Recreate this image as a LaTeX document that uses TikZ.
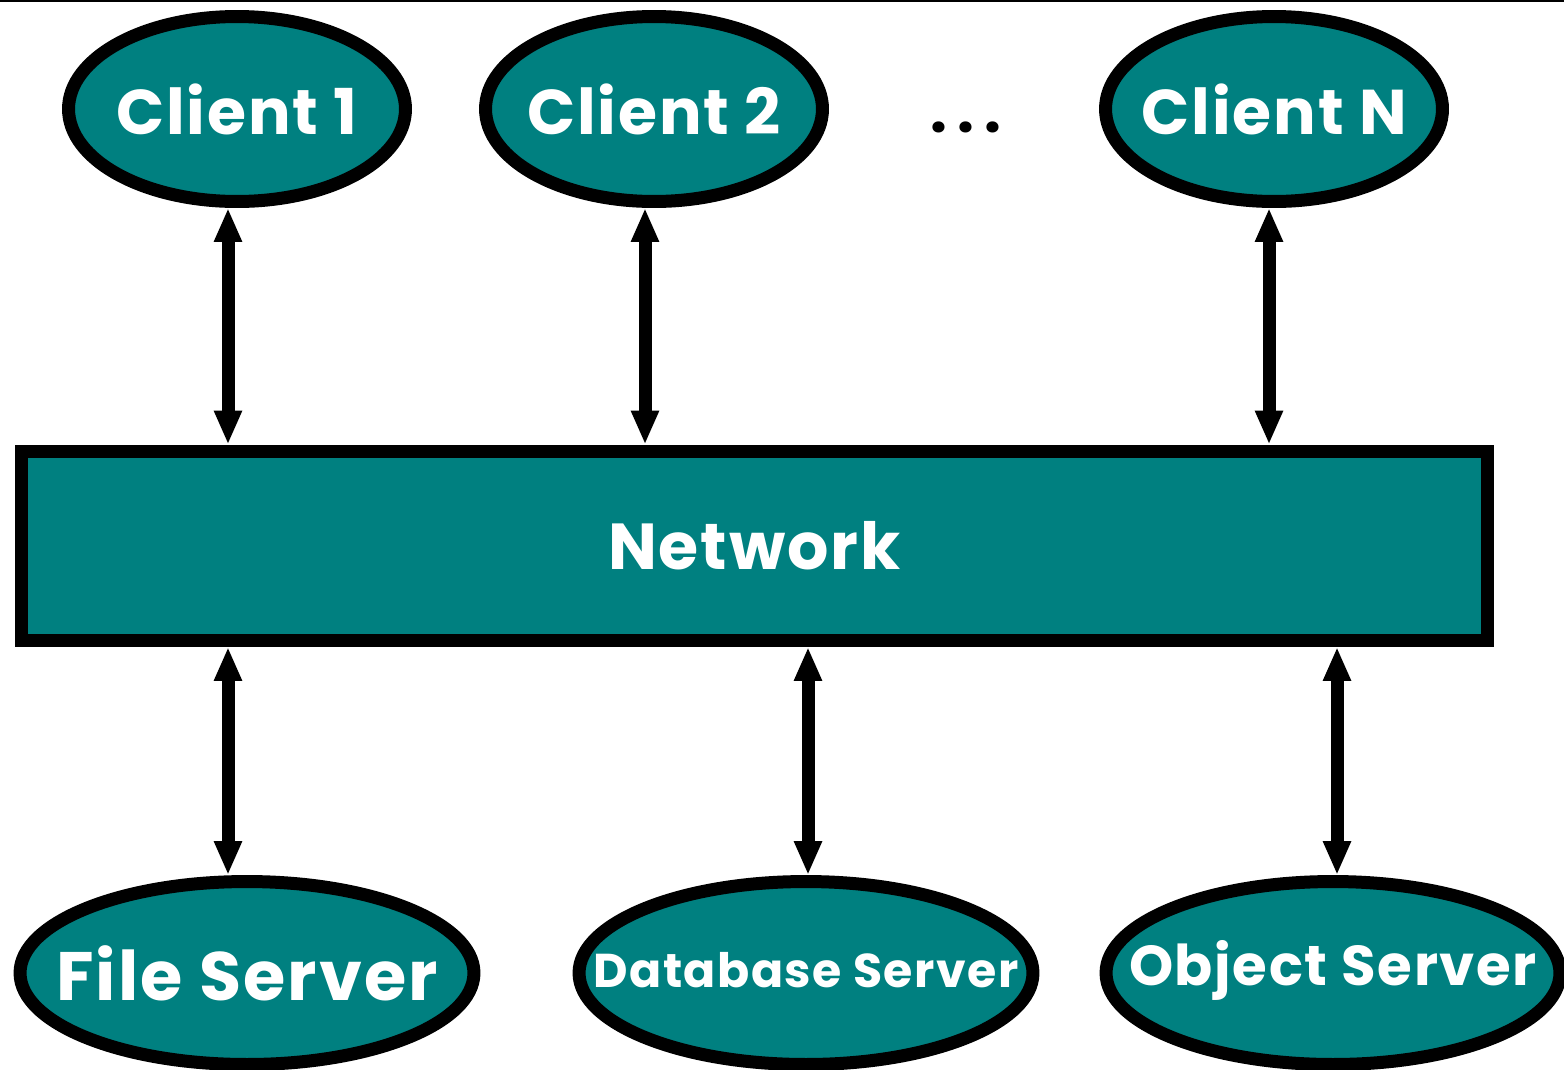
\documentclass[tikz,border=0pt]{standalone}
\usepackage{fontspec}
\setmainfont{Poppins}
\usepackage{tikz}
\usetikzlibrary{shapes.geometric}
\usetikzlibrary{arrows.meta}
\definecolor{netteal}{HTML}{008080}

\begin{document}
\begin{tikzpicture}[x=0.02cm, y=-0.02cm,
  host/.style={draw, ellipse, line width=0.26cm, fill=netteal, minimum width=6.74cm, minimum height=3.7cm},
  server/.style={host, minimum width=9.08cm, minimum height=3.66cm},
  hostlabel/.style={text=white, font=\bfseries\fontsize{#1}{#1}\selectfont\addfontfeatures{LetterSpace=3}},
  hostlabel/.default=36,
  link/.style={line width=0.26cm, {Triangle[length=0.68cm,width=0.52cm]}-{Triangle[length=0.68cm,width=0.52cm]}}]
\useasboundingbox (0,0) rectangle (1564,1069);
\draw[line width=0.04cm] (0,1) -- (1564,1);

% clients
\node[host, label={[hostlabel]center:Client 1}] (Client1) at (237,109) {};
\node[host, label={[hostlabel]center:Client 2}] (Client2) at (654,109) {};
\node[font=\bfseries\fontsize{34}{34}\selectfont] (Dots) at (966,127) {.\,.\,.};
\node[host, label={[hostlabel]center:Client N}] (ClientN) at (1274,109) {};

% network
\node[draw, rectangle, line width=0.26cm, fill=netteal, minimum width=29.32cm, minimum height=3.79cm, hostlabel=37] (Network) at (754.5,545.75) {Network};

% servers
\node[server, label={[hostlabel=39]center:File Server}] (FileServer) at (247,973) {};
\node[server, label={[hostlabel=27, yshift=0.06cm]center:Database Server}] (DatabaseServer) at (806,973) {};
\node[server, label={[hostlabel=32, yshift=0.06cm]center:Object Server}] (ObjectServer) at (1333,973) {};

\foreach \n/\x in {Client1/228, Client2/645, ClientN/1269}
  \draw[link] (\n.south -| \x,0) -- (Network.north -| \x,0);
\foreach \n/\x in {FileServer/228, DatabaseServer/808, ObjectServer/1337}
  \draw[link] (Network.south -| \x,0) -- (\n.north -| \x,0);
\end{tikzpicture}
\end{document}
